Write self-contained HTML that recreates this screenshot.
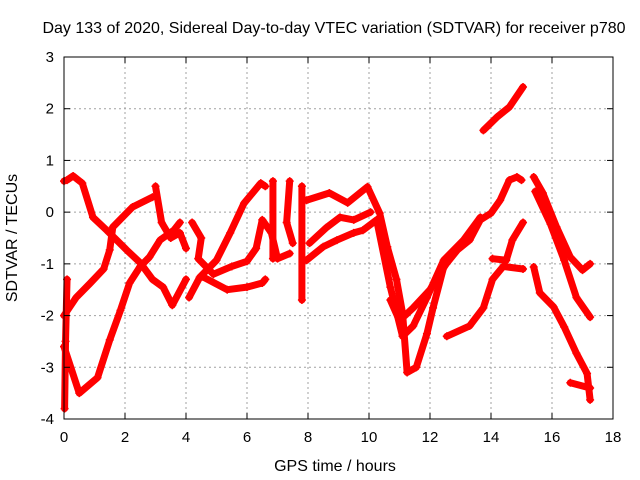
<!DOCTYPE html>
<html><head><meta charset="utf-8"><style>
body{margin:0;background:#fff}
svg{display:block;font-family:"Liberation Sans",sans-serif}
</style></head><body>
<svg id="chart" width="640" height="480" xmlns="http://www.w3.org/2000/svg">
<rect width="640" height="480" fill="#fff"/>
<text x="334" y="33" font-size="16" text-anchor="middle">Day 133 of 2020, Sidereal Day-to-day VTEC variation (SDTVAR) for receiver p780</text>
<text x="335" y="471" font-size="16" text-anchor="middle">GPS time / hours</text>
<text x="0" y="0" font-size="16" text-anchor="middle" transform="translate(17,238) rotate(-90)">SDTVAR / TECUs</text>
<g id="grid"></g><g id="marks"></g><g id="axes"></g>
</svg>
<script>
const xTicks=[0,2,4,6,8,10,12,14,16,18];
const yTicks=[-4,-3,-2,-1,0,1,2,3];
const trackA=[[0,0.6],[0.1,0.62],[0.3,0.7],[0.6,0.56],[0.95,-0.1],[1.4,-0.35],[2.05,-0.73],[2.5,-0.98],[2.9,-1.3],[3.25,-1.45],[3.55,-1.8],[4.0,-1.3]];
const trackB=[[0,-2.6],[0.5,-3.5],[1.1,-3.2],[1.5,-2.47],[1.85,-1.9],[2.15,-1.37],[2.5,-1.05],[2.8,-0.87],[3.15,-0.54],[3.6,-0.35],[3.8,-0.2]];
const trackC=[[0,-2.0],[0.4,-1.65],[0.85,-1.38],[1.3,-1.1],[1.5,-0.73],[1.6,-0.29],[2.25,0.1],[2.9,0.29]];
const trackZ=[[0.02,-3.8],[0.05,-2.5],[0.1,-1.3]];
const trackS=[[3.0,0.5],[3.2,-0.2],[3.5,-0.5],[3.8,-0.4],[4.0,-0.7]];
const trackD=[[4.1,-1.65],[4.45,-1.26],[5.0,-0.93],[5.45,-0.4],[5.9,0.17],[6.45,0.56],[6.6,0.5]];
const trackE=[[4.55,-1.25],[5.35,-1.5],[6.0,-1.45],[6.5,-1.37],[6.6,-1.3]];
const trackF=[[4.2,-0.2],[4.5,-0.5],[4.4,-0.9],[4.9,-1.2],[5.5,-1.05],[6.0,-0.95],[6.3,-0.7],[6.5,-0.15],[6.8,-0.4],[7.0,-0.9],[7.4,-0.8]];
const trackV1=[[6.85,0.6],[6.85,-0.9]];
const trackV2=[[7.4,0.6],[7.3,-0.2],[7.5,-0.6]];
const trackV3=[[7.8,0.5],[7.8,-1.7]];
const trackG=[[7.95,0.23],[8.7,0.37],[9.3,0.18],[9.95,0.49],[10.35,-0.02],[10.6,-0.67],[10.9,-1.3],[11.1,-1.95],[11.25,-3.1],[11.55,-3.0],[11.9,-2.35],[12.1,-1.85],[12.45,-1.06],[12.9,-0.73],[13.3,-0.54],[13.65,-0.15],[14.0,-0.02],[14.3,0.23],[14.6,0.62],[14.85,0.68],[15.0,0.62]];
const trackH=[[7.95,-0.93],[8.5,-0.67],[8.95,-0.54],[9.5,-0.4],[9.8,-0.35],[10.25,-0.15],[10.7,-1.45],[11.1,-2.4],[11.45,-2.2],[11.9,-1.65],[12.45,-0.93],[13.1,-0.54],[13.65,-0.1]];
const trackI=[[8.05,-0.6],[8.6,-0.3],[9.05,-0.1],[9.5,-0.15],[10.05,0.0]];
const trackK=[[10.7,-1.7],[11.0,-2.1],[11.45,-1.85],[12.0,-1.5],[12.55,-0.98]];
const trackL=[[12.55,-2.4],[13.3,-2.2],[13.75,-1.85],[14.05,-1.3],[14.4,-1.05],[15.05,-1.1]];
const trackM=[[14.05,-0.9],[14.5,-0.93],[14.7,-0.54],[15.05,-0.2]];
const trackN=[[13.75,1.58],[14.2,1.84],[14.6,2.03],[15.05,2.42]];
const trackO=[[15.4,0.68],[15.7,0.37],[16.15,-0.29],[16.6,-0.87],[17.0,-1.12],[17.25,-1.0]];
const trackP=[[15.45,0.4],[15.95,-0.23],[16.4,-0.93],[16.8,-1.65],[17.25,-2.03]];
const trackQ=[[15.4,-1.06],[15.6,-1.56],[16.05,-1.83],[16.4,-2.22],[16.8,-2.73],[17.15,-3.12],[17.25,-3.63]];
const trackR=[[16.6,-3.3],[17.25,-3.4]];
const tracks=[trackA,trackB,trackC,trackZ,trackS,trackD,trackE,trackF,trackV1,trackV2,trackV3,trackG,trackH,trackI,trackK,trackL,trackM,trackN,trackO,trackP,trackQ,trackR];

const L=64,R=613,T=57,B=419;
const xs=h=>L+(h-0)/18*(R-L);
const ys=v=>T+(3-v)/7*(B-T);
const NS='http://www.w3.org/2000/svg';
function mk(tag,attrs,parent){const e=document.createElementNS(NS,tag);for(const k in attrs)e.setAttribute(k,attrs[k]);parent.appendChild(e);return e;}
const grid=document.getElementById('grid'),axes=document.getElementById('axes'),marks=document.getElementById('marks');
xTicks.forEach(t=>{const x=xs(t);
 if(t>0&&t<18){const g=mk('line',{x1:x,x2:x,y1:T,y2:B,stroke:'#a0a0a0','stroke-dasharray':'2,3'},grid);
 
 }
 mk('line',{x1:x,x2:x,y1:B,y2:B-6,stroke:'#000'},axes);mk('line',{x1:x,x2:x,y1:T,y2:T+6,stroke:'#000'},axes);
 const lb=mk('text',{x:x,y:B+23,'font-size':15,'text-anchor':'middle'},axes);lb.textContent=t;
 
 });
yTicks.forEach(t=>{const y=ys(t);
 if(t>-4&&t<3){const g=mk('line',{x1:L,x2:R,y1:y,y2:y,stroke:'#a0a0a0','stroke-dasharray':'2,3'},grid);
 
 }
 mk('line',{x1:L,x2:L+6,y1:y,y2:y,stroke:'#000'},axes);mk('line',{x1:R,x2:R-6,y1:y,y2:y,stroke:'#000'},axes);
 const lb=mk('text',{x:L-10,y:y+5,'font-size':15,'text-anchor':'end'},axes);lb.textContent=t;
 
 });
const fr=mk('rect',{x:L,y:T,width:R-L,height:B-T,fill:'none',stroke:'#000'},axes);


tracks.forEach(tr=>{
 const pl=mk('polyline',{points:tr.map(p=>xs(p[0])+','+ys(p[1])).join(' '),fill:'none',stroke:'#f00','stroke-width':7,'stroke-linejoin':'round','stroke-linecap':'round'},marks);
 
 
 tr.forEach(p=>{const x=xs(p[0]),y=ys(p[1]);
  const m=mk('path',{d:`M${x-4},${y}h8M${x},${y-4}v8`,stroke:'#f00','stroke-width':1.5},marks);
  
  });
});
</script>
</body></html>
